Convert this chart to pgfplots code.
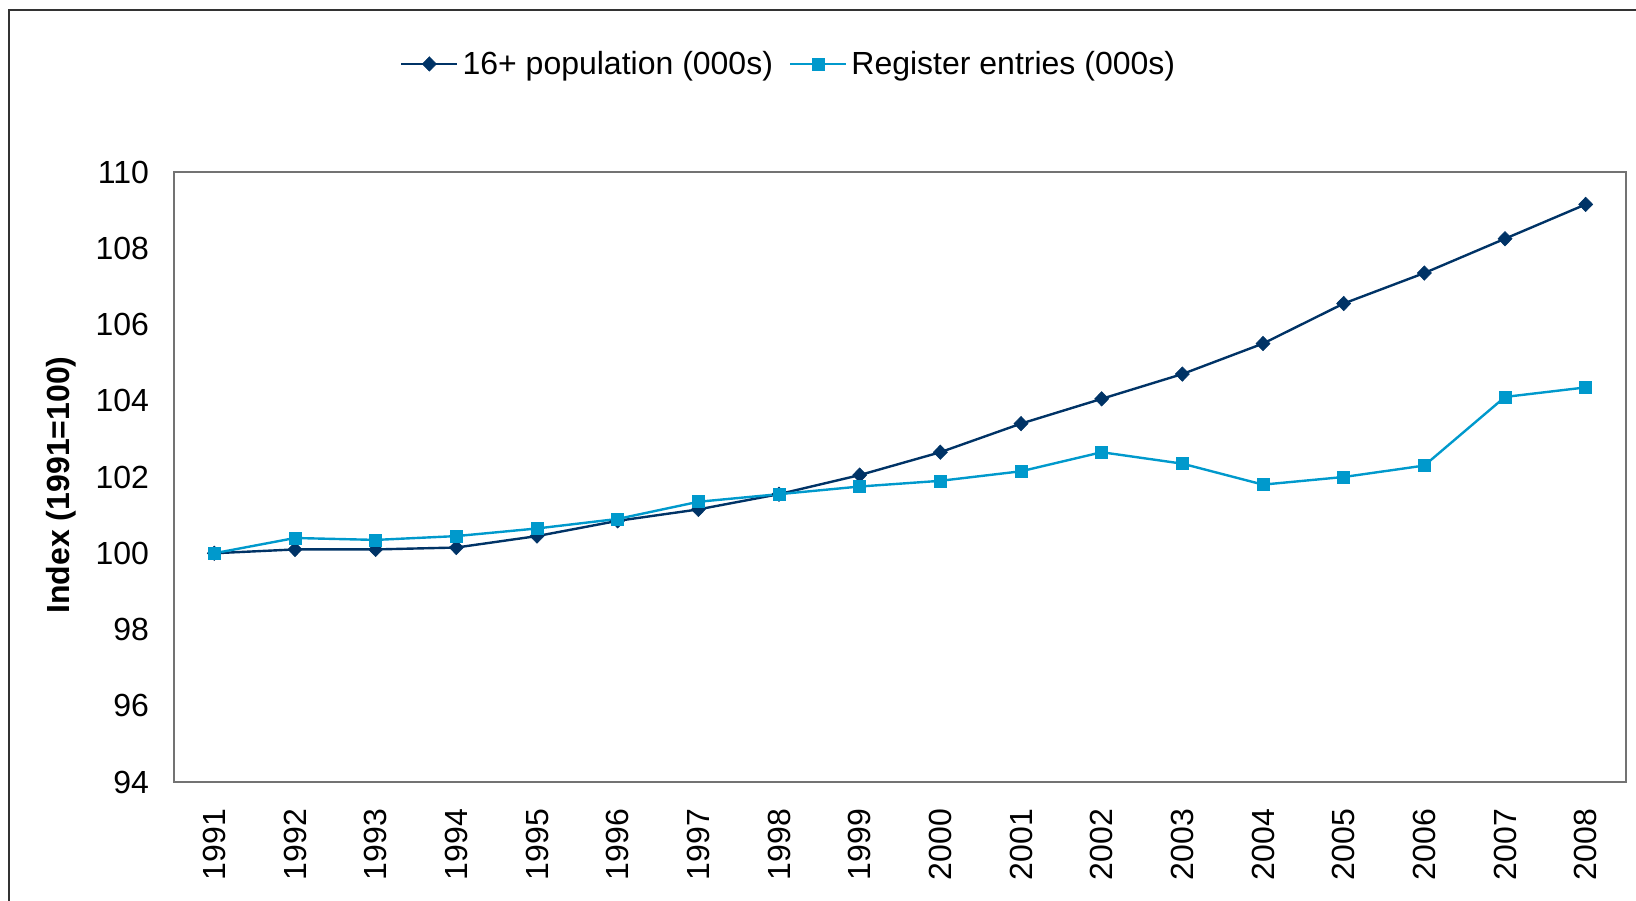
\documentclass[border=0pt]{standalone}
\usepackage{pgfplots}
\pgfplotsset{compat=1.18}
\usepackage{fontspec}
\setmainfont{Liberation Sans}
\definecolor{navy}{HTML}{003366}
\definecolor{lblue}{HTML}{0099CC}
\begin{document}
\begin{tikzpicture}[x=1pt,y=1pt]
\useasboundingbox (0,0) rectangle (818,450);
\draw[line width=1pt,black!80] (4.7,-20) rectangle (840,445);
\begin{axis}[
  at={(87pt,59pt)}, anchor=south west,
  scale only axis, width=726pt, height=305pt,
  xmin=-0.5, xmax=17.5, ymin=94, ymax=110,
  xtick={0,...,17},
  xticklabels={1991,1992,1993,1994,1995,1996,1997,1998,1999,2000,2001,2002,2003,2004,2005,2006,2007,2008},
  xticklabel style={rotate=90, anchor=east, font=\fontsize{16}{19}\selectfont},
  ytick={94,96,...,110},
  yticklabel style={font=\fontsize{16}{19}\selectfont},
  /pgf/number format/assume math mode=true,
  major tick length=0pt,
  xtick pos=bottom, ytick pos=left,
  axis line style={draw=black!55, line width=0.8pt},
  xticklabel shift=10pt,
  yticklabel shift=9pt,
  ylabel={\textbf{Index (1991=100)}},
  ylabel style={font=\fontsize{16}{19}\selectfont, at={(axis description cs:-0.0775,0.487)}, anchor=center, rotate=0},
  legend style={at={(axis description cs:0.424,1.0)}, anchor=center, yshift=54pt, draw=none, fill=none, font=\fontsize{16}{19}\selectfont, legend columns=2, /tikz/every even column/.append style={column sep=6pt}},
  legend cell align=left,
  legend image code/.code={\draw[mark repeat=2,mark phase=2] plot coordinates {(0pt,0pt) (14pt,0pt) (28pt,0pt)};},
]
\addplot[navy, line width=1.2pt, mark=diamond*, mark size=3.6pt, mark options={fill=navy, draw=navy, line width=0.3pt, xscale=1.3}] coordinates {
(0,100) (1,100.1) (2,100.1) (3,100.15) (4,100.45) (5,100.85) (6,101.15) (7,101.55) (8,102.05) (9,102.65) (10,103.4) (11,104.05) (12,104.7) (13,105.5) (14,106.55) (15,107.35) (16,108.25) (17,109.15)
};
\addlegendentry{16+ population (000s)}
\addplot[lblue, line width=1.2pt, mark=square*, mark size=3pt, mark options={fill=lblue, draw=lblue, line width=0.3pt}] coordinates {
(0,100) (1,100.4) (2,100.35) (3,100.45) (4,100.65) (5,100.9) (6,101.35) (7,101.55) (8,101.75) (9,101.9) (10,102.15) (11,102.65) (12,102.35) (13,101.8) (14,102) (15,102.3) (16,104.1) (17,104.35)
};
\addlegendentry{Register entries (000s)}
\end{axis}
\end{tikzpicture}
\end{document}
